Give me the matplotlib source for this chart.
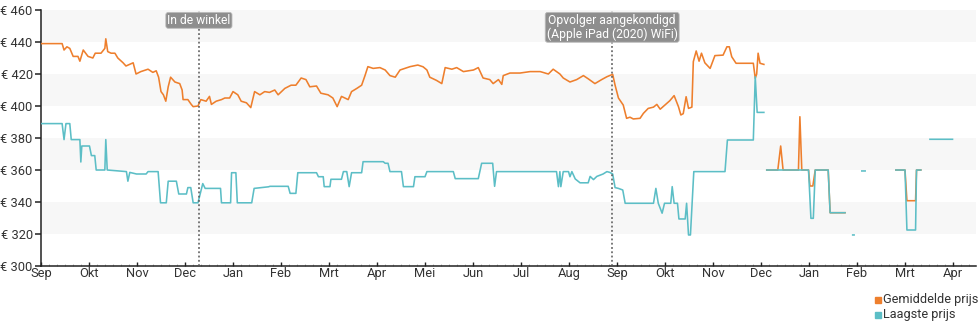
import numpy as np
import matplotlib
matplotlib.use("Agg")
import matplotlib.pyplot as plt

plt.rcParams['font.family'] = ['Roboto', 'DejaVu Sans']

nan = np.nan

# Month labels on the x axis (one tick per month, starting in September)
month_labels = ["Sep", "Okt", "Nov", "Dec", "Jan", "Feb", "Mrt", "Apr", "Mei", "Jun",
                "Jul", "Aug", "Sep", "Okt", "Nov", "Dec", "Jan", "Feb", "Mrt", "Apr"]

# Average price: position in months since the first September, price in euro
avg_t = [0.00, 0.44, 0.48, 0.54, 0.60, 0.67, 0.77, 0.81, 0.88, 0.98, 1.08, 1.13, 1.25, 1.33,
         1.35, 1.39, 1.46, 1.54, 1.60, 1.71, 1.77, 1.92, 1.98, 2.08, 2.23, 2.33, 2.40, 2.45,
         2.50, 2.55, 2.60, 2.65, 2.70, 2.79, 2.89, 2.94, 2.96, 3.06, 3.13, 3.17, 3.27, 3.33,
         3.44, 3.51, 3.55, 3.65, 3.76, 3.83, 3.93, 4.00, 4.10, 4.17, 4.28, 4.37, 4.45, 4.56,
         4.66, 4.76, 4.87, 4.94, 5.08, 5.21, 5.31, 5.42, 5.52, 5.60, 5.74, 5.83, 5.98, 6.08,
         6.17, 6.26, 6.40, 6.47, 6.58, 6.68, 6.75, 6.81, 6.92, 7.06, 7.17, 7.27, 7.38, 7.48,
         7.69, 7.85, 7.96, 8.04, 8.10, 8.24, 8.35, 8.42, 8.56, 8.66, 8.80, 9.01, 9.11, 9.21,
         9.35, 9.42, 9.53, 9.60, 9.63, 9.77, 9.98, 10.19, 10.40, 10.57, 10.67, 10.81, 10.88,
         11.02, 11.16, 11.30, 11.40, 11.54, 11.68, 11.79, 11.91, 11.96, 12.03, 12.13, 12.20,
         12.27, 12.34, 12.48, 12.55, 12.65, 12.76, 12.83, 12.90, 13.04, 13.10, 13.19, 13.28,
         13.33, 13.38, 13.44, 13.49, 13.56, 13.59, 13.65, 13.71, 13.76, 13.83, 13.94, 14.04,
         14.21, 14.29, 14.34, 14.39, 14.48, 14.84, 14.88, 14.91, 14.94, 14.98, 15.06, 15.09,
         15.12, 15.35, 15.41, 15.46, 15.78, 15.81, 15.85, 15.99, 16.02, 16.08, 16.13, 16.40,
         16.44, 16.75, 17.30,
         17.81, 18.00, 18.04, 18.22, 18.24, 18.33]
avg_v = [439, 439, 435, 437, 436, 431, 431, 428, 435, 431, 430, 433, 433, 436,
         442, 434, 433, 433, 430, 427, 425, 427, 420, 421.5, 423, 421, 422, 418,
         409, 407, 403, 412, 418, 415, 414, 410, 404, 404, 401, 399.6, 400, 404,
         403, 406, 401, 403, 404, 405, 405, 409, 407, 403, 402, 399, 409, 407,
         409, 408.5, 410, 407, 411, 413, 413, 417.5, 416.5, 412, 412.5, 408, 407, 405,
         399.6, 406, 404, 409, 411, 413, 419, 424.6, 423.5, 424, 422.5, 419, 418, 422.5,
         424.6, 425.6, 424.5, 422.5, 418, 416, 414, 424, 423, 424, 421.5, 422.5, 424, 417.5,
         416.5, 414, 416.5, 413.5, 419, 420.6, 420.6, 421.5, 421.5, 420, 423, 420, 417.5,
         415, 416.5, 419, 417, 414, 416.5, 418.3, 419.8, 413, 405, 400.6, 392.3,
         393, 391.9, 392.3, 395.4, 398.5, 399.3, 401, 398, 401.7, 403.3, 406.5, 399.6,
         394.4, 395.2, 405.8, 398.5, 399.3, 427.7, 434.4, 428, 433, 427, 423.5, 431.5,
         431.8, 437, 437, 430.8, 426.7, 426.7, 417.3, 420, 433, 426.7, 426, nan,
         360, 360, 375, 360, 360, 393.3, 360, 360, 350, 350, 360, 360,
         333.3, 333.3, nan,
         360, 360, 340.8, 340.8, 360, 360]

# Lowest price
low_t = [0.00, 0.44, 0.48, 0.52, 0.60, 0.63, 0.81, 0.83, 0.85, 1.01, 1.05, 1.12, 1.15, 1.33,
         1.35, 1.38, 1.78, 1.81, 1.85, 1.99, 2.19, 2.23, 2.44, 2.49, 2.61, 2.65, 2.82, 2.87,
         3.03, 3.06, 3.12, 3.17, 3.27, 3.37, 3.42, 3.74, 3.76, 3.95, 3.97, 4.06, 4.09, 4.39,
         4.44, 4.74, 4.77, 5.15, 5.19, 5.31, 5.35, 5.74, 5.78, 5.88, 5.90, 6.02, 6.04, 6.26,
         6.30, 6.37, 6.42, 6.47, 6.68, 6.71, 7.13, 7.17, 7.23, 7.27, 7.51, 7.55, 7.76, 7.79,
         8.00, 8.04, 8.59, 8.63, 9.11, 9.18, 9.41, 9.45, 9.49, 10.74, 10.78, 10.81, 10.83,
         10.88, 10.99, 11.02, 11.06, 11.13, 11.23, 11.40, 11.44, 11.51, 11.58, 11.71, 11.79,
         11.85, 11.91, 11.96, 12.03, 12.12, 12.17, 12.76, 12.81, 12.86, 12.94, 12.99, 13.12,
         13.15, 13.19, 13.26, 13.29, 13.42, 13.45, 13.49, 13.53, 13.60, 14.25, 14.30, 14.84,
         14.88, 14.92, 15.06, 15.09,
         15.12, 15.99, 16.04, 16.09, 16.13, 16.40, 16.44, 16.75, 16.83,
         16.91, 16.94, 17.02,
         17.10, 17.17, 17.50,
         17.81, 18.00, 18.04, 18.22, 18.24, 18.33, 18.43,
         18.52, 18.99]
low_v = [389, 389, 379, 389, 389, 379, 379, 365, 375, 375, 369, 369, 360, 360,
         379, 360, 359, 353, 358.5, 357.5, 357.5, 359, 359, 339.5, 339.5, 353, 353, 345,
         345, 349, 349, 339.5, 339.5, 351.5, 348.5, 348.5, 339.5, 339.5, 358.3, 358.3, 339.5, 339.5,
         348.5, 349.5, 349.8, 349.8, 345.4, 345.4, 358.3, 358.3, 355.8, 355.8, 349.6, 349.6, 354.2, 354.2,
         359, 359, 349.6, 358.3, 358.3, 365.2, 365.2, 364.2, 364.2, 359, 359, 349.6, 349.6, 355.8,
         355.8, 359, 359, 354.6, 354.6, 364.2, 364.2, 349.8, 359, 359, 349.6, 359, 349.6,
         359, 359, 355.8, 359, 354.4, 352, 352, 356, 354, 356, 357.5, 359,
         358.5, 357.5, 349, 348.5, 347.5, 339.2, 339.2, 348.5, 339.2, 333, 339.2, 339.2,
         349.6, 339.2, 339.2, 329.4, 329.4, 339.2, 319.4, 319.4, 359, 359, 378.75, 378.75,
         418.3, 396, 396, nan,
         360, 360, 329.8, 329.8, 360, 360, 333.3, 333.3, nan,
         319.4, 319.4, nan,
         359.4, 359.4, nan,
         360, 360, 322.5, 322.5, 360, 360, nan,
         379.2, 379.2]

# Product events shown as dotted vertical markers
event_t = [3.29, 11.90]
event_text = ["In de winkel", "Opvolger aangekondigd\n(Apple iPad (2020) WiFi)"]

y_ticks = [300, 320, 340, 360, 380, 400, 420, 440, 460]

orange = "#ee7f2d"
teal = "#5cbec6"

fig = plt.figure(figsize=(9.8, 3.25), dpi=100)
ax = fig.add_axes([41 / 980, 1 - 266 / 325, (976 - 41) / 980, 256 / 325])

x_max = (976 - 41) / 48
ax.set_xlim(0, x_max)
ax.set_ylim(300, 460)

# alternating horizontal bands
for lo in (320, 360, 400, 440):
    ax.axhspan(lo, lo + 20, color="#f7f7f7", zorder=0, lw=0)

ax.plot(avg_t, avg_v, color=orange, lw=1.15, zorder=3, solid_joinstyle="round")
ax.plot(low_t, low_v, color=teal, lw=1.15, zorder=4, solid_joinstyle="round")

for t, txt in zip(event_t, event_text):
    ax.axvline(t, color="#555555", lw=1.1, ls=(0, (1.2, 1.6)), zorder=5)
    ax.text(t, 457.6, txt, ha="center", va="top", fontsize=8.7, color="white",
            linespacing=1.05, zorder=6,
            bbox=dict(boxstyle="round,pad=0.12,rounding_size=0.2", fc="#8e8e8e", ec="#bbbbbb", lw=0.6))

ax.set_yticks(y_ticks)
ax.set_yticklabels([f"€ {v}" for v in y_ticks])
ax.set_xticks(np.arange(len(month_labels)))
ax.set_xticklabels(month_labels)
ax.set_xticks(np.arange(0, x_max, 1 / 6), minor=True)

for s in ("top", "right"):
    ax.spines[s].set_visible(False)
for s in ("left", "bottom"):
    ax.spines[s].set_color("#222222")
    ax.spines[s].set_linewidth(1.1)

ax.tick_params(axis="y", direction="out", length=4, width=1.1, color="#222222",
               labelsize=9.3, labelcolor="#333333", pad=2)
ax.tick_params(axis="x", which="major", direction="in", length=3, width=1.0, color="#222222",
               labelsize=9.3, labelcolor="#333333", pad=1)
ax.tick_params(axis="x", which="minor", direction="in", length=1.5, width=0.5, color="#999999")

# legend in the lower right corner
fig.patches.append(plt.Rectangle((875 / 980, 1 - 303 / 325), 6 / 980, 6 / 325,
                                 transform=fig.transFigure, color=orange))
fig.patches.append(plt.Rectangle((875 / 980, 1 - 318 / 325), 6 / 980, 6 / 325,
                                 transform=fig.transFigure, color=teal))
fig.text(883 / 980, 1 - 299.5 / 325, "Gemiddelde prijs", fontsize=9.2, color="#333333", va="center")
fig.text(883 / 980, 1 - 314.5 / 325, "Laagste prijs", fontsize=9.2, color="#333333", va="center")

fig.savefig("out.png", dpi=100)
